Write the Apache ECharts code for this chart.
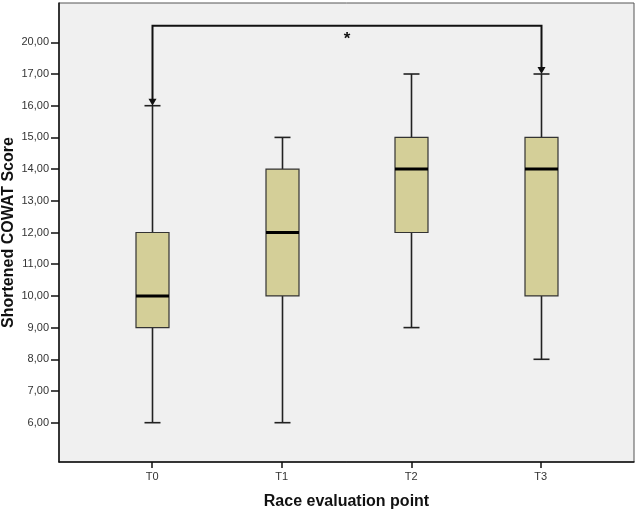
<!DOCTYPE html>
<html>
<head>
<meta charset="utf-8">
<script src="https://cdn.jsdelivr.net/npm/echarts@6/dist/echarts.min.js"></script>
<style>
  html, body { margin: 0; padding: 0; background: #fff; }
  #chart { width: 640px; height: 514px; }
</style>
</head>
<body>
<div id="chart"></div>
<script>
const categories = ['T0', 'T1', 'T2', 'T3']
const whiskerMin = [6, 6, 9, 8]
const quartile1 = [9, 10, 12, 10]
const medians = [10, 12, 14, 14]
const quartile3 = [12, 14, 15, 15]
const whiskerMax = [16, 15, 17, 17]

// SPSS put evenly spaced ticks but labelled the top one 20,00
const tickValues = [6, 7, 8, 9, 10, 11, 12, 13, 14, 15, 16, 17, 18]
const tickLabels = ['6,00', '7,00', '8,00', '9,00', '10,00', '11,00', '12,00',
  '13,00', '14,00', '15,00', '16,00', '17,00', '20,00']

// significance bracket between T0 and T3
const bracketFrom = 0
const bracketTo = 3
const bracketLevel = 18.52
const bracketMark = '*'

const boxData = categories.map((c, i) => [
  i, whiskerMin[i], quartile1[i], medians[i], quartile3[i], whiskerMax[i],
])

const font = '"Liberation Sans", Arial, sans-serif'
const chart = echarts.init(document.getElementById('chart'))

function renderBox(params, api) {
  const x = api.value(0)
  const pMin = api.coord([x, api.value(1)])
  const pQ1 = api.coord([x, api.value(2)])
  const pMed = api.coord([x, api.value(3)])
  const pQ3 = api.coord([x, api.value(4)])
  const pMax = api.coord([x, api.value(5)])
  const half = 16.5
  const cap = 8
  const cx = Math.round(pMin[0]) + 0.5
  const line = { stroke: '#222', lineWidth: 1.6 }

  return {
    type: 'group',
    children: [
      { type: 'line', shape: { x1: cx, y1: pMin[1], x2: cx, y2: pQ1[1] }, style: line },
      { type: 'line', shape: { x1: cx, y1: pQ3[1], x2: cx, y2: pMax[1] }, style: line },
      { type: 'line', shape: { x1: cx - cap, y1: pMin[1], x2: cx + cap, y2: pMin[1] }, style: line },
      { type: 'line', shape: { x1: cx - cap, y1: pMax[1], x2: cx + cap, y2: pMax[1] }, style: line },
      {
        type: 'rect',
        shape: { x: cx - half, y: pQ3[1], width: half * 2, height: pQ1[1] - pQ3[1] },
        style: { fill: '#d4cf98', stroke: '#333', lineWidth: 1.2 },
      },
      {
        type: 'line',
        shape: { x1: cx - half, y1: pMed[1], x2: cx + half, y2: pMed[1] },
        style: { stroke: '#000', lineWidth: 3 },
      },
    ],
  }
}

function renderBracket(params, api) {
  const a = api.coord([bracketFrom, bracketLevel])
  const b = api.coord([bracketTo, bracketLevel])
  const aEnd = api.coord([bracketFrom, whiskerMax[bracketFrom]])
  const bEnd = api.coord([bracketTo, whiskerMax[bracketTo]])
  const ax = Math.round(a[0]) + 0.5
  const bx = Math.round(b[0]) + 0.5
  const style = { stroke: '#111', lineWidth: 2, fill: null }
  const arrow = (x, y) => ({
    type: 'polygon',
    shape: { points: [[x - 4, y - 7], [x + 4, y - 7], [x, y]] },
    style: { fill: '#111' },
  })

  return {
    type: 'group',
    children: [
      {
        type: 'polyline',
        shape: { points: [[ax, aEnd[1] - 3], [ax, a[1]], [bx, b[1]], [bx, bEnd[1] - 3]] },
        style,
      },
      arrow(ax, aEnd[1]),
      arrow(bx, bEnd[1]),
      {
        type: 'text',
        x: (ax + bx) / 2,
        y: a[1] + 5,
        style: {
          text: bracketMark,
          fill: '#111',
          font: 'bold 17px ' + font,
          align: 'center',
          verticalAlign: 'top',
        },
      },
    ],
  }
}

chart.setOption({
  animation: false,
  grid: {
    left: 59,
    right: 6,
    top: 3,
    bottom: 52,
    outerBoundsMode: 'none',
    show: true,
    backgroundColor: '#f0f0f0',
    borderColor: '#555',
    borderWidth: 1,
  },
  xAxis: {
    type: 'value',
    min: -0.72,
    max: 3.72,
    name: 'Race evaluation point',
    nameLocation: 'middle',
    nameGap: 32,
    nameMoveOverlap: false,
    nameTextStyle: { fontFamily: font, fontWeight: 'bold', fontSize: 16, color: '#111' },
    splitLine: { show: false },
    axisLine: { onZero: false, lineStyle: { color: '#111', width: 1.5 } },
    axisTick: { customValues: [0, 1, 2, 3], length: 6, lineStyle: { color: '#111', width: 1.5 } },
    axisLabel: {
      customValues: [0, 1, 2, 3],
      formatter: (v) => categories[v],
      margin: 9,
      fontFamily: font,
      fontSize: 11,
      color: '#333',
    },
  },
  yAxis: {
    type: 'value',
    min: 4.76,
    max: 19.24,
    name: 'Shortened COWAT Score',
    nameLocation: 'middle',
    nameGap: 42,
    nameMoveOverlap: false,
    nameTextStyle: { fontFamily: font, fontWeight: 'bold', fontSize: 16, color: '#111' },
    splitLine: { show: false },
    axisLine: { show: true, onZero: false, lineStyle: { color: '#111', width: 1.5 } },
    axisTick: { customValues: tickValues, length: 8, lineStyle: { color: '#111', width: 1.5 } },
    axisLabel: {
      customValues: tickValues,
      formatter: (v) => tickLabels[tickValues.indexOf(v)],
      margin: 10,
      fontFamily: font,
      fontSize: 11,
      color: '#333',
    },
  },
  series: [
    {
      type: 'custom',
      renderItem: renderBox,
      data: boxData,
      encode: { x: 0, y: [1, 2, 3, 4, 5] },
      clip: false,
    },
    {
      type: 'custom',
      renderItem: renderBracket,
      data: [[bracketFrom, bracketLevel]],
      encode: { x: 0, y: 1 },
      clip: false,
    },
  ],
})
</script>
</body>
</html>
